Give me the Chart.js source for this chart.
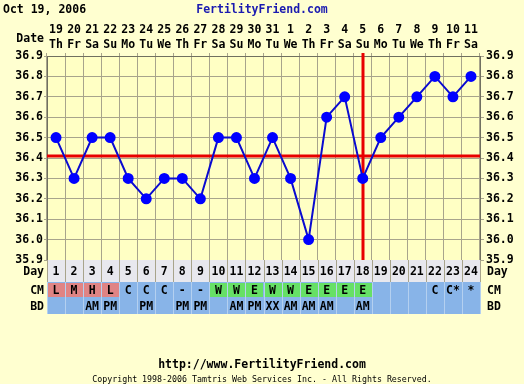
<!DOCTYPE html>
<html>
<head>
<meta charset="utf-8">
<script src="https://cdn.jsdelivr.net/npm/chart.js@4"></script>
<style>
  html, body { margin: 0; padding: 0; background: #ffffd0; }
  #chart { display: block; }
</style>
</head>
<body>
<canvas id="chart" width="524" height="384"></canvas>
<script>
// data
const dates    = ['19','20','21','22','23','24','25','26','27','28','29','30','31','1','2','3','4','5','6','7','8','9','10','11'];
const weekdays = ['Th','Fr','Sa','Su','Mo','Tu','We','Th','Fr','Sa','Su','Mo','Tu','We','Th','Fr','Sa','Su','Mo','Tu','We','Th','Fr','Sa'];
const cycleDays = [1,2,3,4,5,6,7,8,9,10,11,12,13,14,15,16,17,18,19,20,21,22,23,24];
const temps = [36.5,36.3,36.5,36.5,36.3,36.2,36.3,36.3,36.2,36.5,36.5,36.3,36.5,36.3,36.0,36.6,36.7,36.3,36.5,36.6,36.7,36.8,36.7,36.8];
const cm = ['L','M','H','L','C','C','C','-','-','W','W','E','W','W','E','E','E','E','','','','C','C*','*'];
const bd = ['','','AM','PM','','PM','','PM','PM','','AM','PM','XX','AM','AM','AM','','AM','','','','','',''];
const coverline = 36.41;
const ovulationDay = 18;

const FONT = '"DejaVu Sans Mono", monospace';
const BG = '#ffffd0';
const PLOT_BG = '#ffffc4';
const GRID = '#a8a48c';

function cmColor(v) {
  if (['L','M','H'].includes(v)) return '#e08484';
  if (['W','E'].includes(v)) return '#66e066';
  return '#88b4e8';
}

const chartPlugin = {
  id: 'ffChart',
  beforeDraw(chart) {
    const { ctx, chartArea: a } = chart;
    ctx.save();
    ctx.fillStyle = BG;
    ctx.fillRect(0, 0, chart.width, chart.height);
    ctx.fillStyle = PLOT_BG;
    ctx.fillRect(a.left, a.top, a.right - a.left, a.bottom - a.top);
    ctx.restore();
  },
  beforeDatasetsDraw(chart) {
    const { ctx, chartArea: a, scales } = chart;
    ctx.save();
    ctx.strokeStyle = '#e80000';
    ctx.lineWidth = 3;
    const cy = Math.round(scales.y.getPixelForValue(coverline));
    ctx.beginPath();
    ctx.moveTo(a.left, cy);
    ctx.lineTo(a.right, cy);
    ctx.stroke();
    const ox = Math.round(scales.x.getPixelForValue(ovulationDay - 1));
    ctx.beginPath();
    ctx.moveTo(ox, a.top - 3);
    ctx.lineTo(ox, a.bottom);
    ctx.stroke();
    ctx.restore();
  },
  afterDraw(chart) {
    const { ctx, chartArea: a, scales } = chart;
    const x = scales.x;
    const colW = (a.right - a.left) / dates.length;
    ctx.save();

    // header texts
    ctx.font = 'bold 11.5px ' + FONT;
    ctx.textBaseline = 'middle';
    ctx.fillStyle = '#000';
    ctx.textAlign = 'left';
    ctx.fillText('Oct 19, 2006', 3, 10);
    ctx.fillStyle = '#1a1ab0';
    ctx.textAlign = 'center';
    ctx.fillText('FertilityFriend.com', 262, 10);
    ctx.fillStyle = '#000';
    ctx.textAlign = 'right';
    ctx.fillText('Date', 44, 39);

    // table rows
    const dayTop = a.bottom, dayBot = dayTop + 22;
    const cmTop = dayBot, cmBot = cmTop + 16;
    const bdTop = cmBot, bdBot = bdTop + 16;

    ctx.fillStyle = '#e8e8ee';
    ctx.fillRect(a.left, dayTop, a.right - a.left, dayBot - dayTop);
    ctx.fillStyle = '#88b4e8';
    ctx.fillRect(a.left, cmTop, a.right - a.left, bdBot - cmTop);

    // column separators in day row
    ctx.strokeStyle = GRID;
    ctx.lineWidth = 1;
    for (let i = 0; i <= dates.length; i++) {
      const px = Math.round(a.left + i * colW) + 0.5;
      ctx.beginPath();
      ctx.moveTo(px, dayTop);
      ctx.lineTo(px, dayBot);
      ctx.stroke();
    }

    for (let i = 0; i < dates.length; i++) {
      const cx = x.getPixelForValue(i);
      const l = Math.round(cx - colW / 2);
      const w = Math.round(colW);
      // cm cell
      ctx.fillStyle = cmColor(cm[i]);
      ctx.fillRect(l + 1, cmTop + 1, w - 1, cmBot - cmTop - 2);
      // bd cell
      ctx.fillStyle = '#88b4e8';
      ctx.fillRect(l + 1, bdTop + 1, w - 1, bdBot - bdTop - 2);
    }
    // light cell separators
    ctx.strokeStyle = '#b4d0f0';
    for (let i = 0; i <= dates.length; i++) {
      const px = Math.round(a.left + i * colW) + 0.5;
      ctx.beginPath();
      ctx.moveTo(px, cmTop);
      ctx.lineTo(px, bdBot);
      ctx.stroke();
    }

    ctx.font = 'bold 11.5px ' + FONT;
    ctx.fillStyle = '#000';
    ctx.textAlign = 'center';
    ctx.textBaseline = 'middle';
    for (let i = 0; i < dates.length; i++) {
      const cx = x.getPixelForValue(i);
      ctx.fillText(String(cycleDays[i]), cx, (dayTop + dayBot) / 2 + 1);
      ctx.fillText(cm[i], cx, (cmTop + cmBot) / 2 + 1);
      ctx.fillText(bd[i], cx, (bdTop + bdBot) / 2 + 1);
    }

    // row labels
    const rows = [['Day', (dayTop + dayBot) / 2 + 1], ['CM', (cmTop + cmBot) / 2 + 1], ['BD', (bdTop + bdBot) / 2 + 1]];
    rows.forEach(([t, y]) => {
      ctx.textAlign = 'right';
      ctx.fillText(t, a.left - 3, y);
      ctx.textAlign = 'left';
      ctx.fillText(t, a.right + 7, y);
    });

    // footer
    ctx.textAlign = 'center';
    ctx.font = 'bold 11.5px ' + FONT;
    ctx.fillText('http://www.FertilityFriend.com', 262, 365);
    ctx.font = '8.3px ' + FONT;
    ctx.fillText('Copyright 1998-2006 Tamtris Web Services Inc. - All Rights Reserved.', 262, 380);
    ctx.restore();
  }
};

const tickFont = { family: FONT, size: 11.5, weight: 'bold', lineHeight: 1.25 };

new Chart(document.getElementById('chart'), {
  type: 'line',
  data: {
    labels: dates.map((d, i) => [d, weekdays[i]]),
    datasets: [{
      data: temps,
      borderColor: '#0a0ad0',
      borderWidth: 2,
      backgroundColor: '#0000ff',
      pointBackgroundColor: '#0000ff',
      pointBorderColor: '#0000ff',
      pointRadius: 4.5,
      tension: 0,
      fill: false
    }]
  },
  options: {
    responsive: false,
    animation: false,
    events: [],
    layout: { padding: { top: 0, bottom: 124, left: 0, right: 0 } },
    plugins: { legend: { display: false }, tooltip: { enabled: false } },
    scales: {
      x: {
        type: 'category',
        position: 'top',
        offset: true,
        grid: { offset: true, color: GRID, tickLength: 3 },
        border: { color: '#707060' },
        ticks: { font: tickFont, color: '#000', padding: 1, maxRotation: 0, autoSkip: false },
        afterFit(s) { s.height = 56; }
      },
      y: {
        position: 'left',
        min: 35.9,
        max: 36.9,
        grid: { color: GRID, tickLength: 3 },
        border: { color: '#707060' },
        ticks: { stepSize: 0.1, font: tickFont, color: '#000', padding: 1,
          callback: v => v.toFixed(1) },
        afterFit(s) { s.width = 47; }
      },
      y2: {
        position: 'right',
        min: 35.9,
        max: 36.9,
        grid: { drawOnChartArea: false, color: GRID, tickLength: 4 },
        border: { color: '#707060' },
        ticks: { stepSize: 0.1, font: tickFont, color: '#000', padding: 2,
          callback: v => v.toFixed(1) },
        afterFit(s) { s.width = 44; }
      }
    }
  },
  plugins: [chartPlugin]
});
</script>
</body>
</html>
